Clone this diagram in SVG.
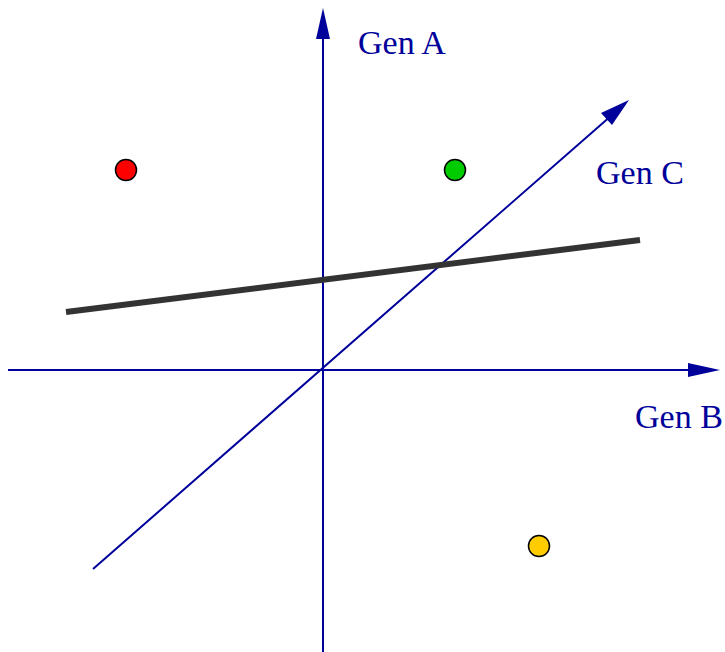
<svg xmlns="http://www.w3.org/2000/svg" width="725" height="652" viewBox="0 0 725 652">
<style>
.ax{stroke:#00009a;stroke-width:2;fill:none}
.ah{fill:#00009a}
.lbl{font-family:"Liberation Serif",serif;font-size:34px;fill:#00009a}
.pt{stroke:#000;stroke-width:1.5}
</style>
<rect width="725" height="652" fill="#fff"/>
<g id="connectors">
<line class="ax" x1="323" y1="652" x2="323" y2="30"/>
<polygon class="ah" points="323,8 316,39 330,39"/>
<line class="ax" x1="8" y1="370" x2="695" y2="370"/>
<polygon class="ah" points="720,370 688,363 688,377"/>
<line class="ax" x1="93" y1="569" x2="612" y2="115"/>
<polygon class="ah" points="629,100 601,113 612,125"/>
<line x1="66" y1="312" x2="640" y2="240" stroke="#333" stroke-width="6"/>
</g>
<g id="labelA"><text class="lbl" x="358" y="54">Gen A</text></g>
<g id="labelB"><text class="lbl" x="635" y="428">Gen B</text></g>
<g id="labelC"><text class="lbl" x="596" y="184">Gen C</text></g>
<g id="red"><circle class="pt" cx="126" cy="170" r="10.5" fill="#ff0000"/></g>
<g id="green"><circle class="pt" cx="455" cy="170" r="10.5" fill="#00cc00"/></g>
<g id="yellow"><circle class="pt" cx="539" cy="546" r="10.5" fill="#ffcc00"/></g>
</svg>
